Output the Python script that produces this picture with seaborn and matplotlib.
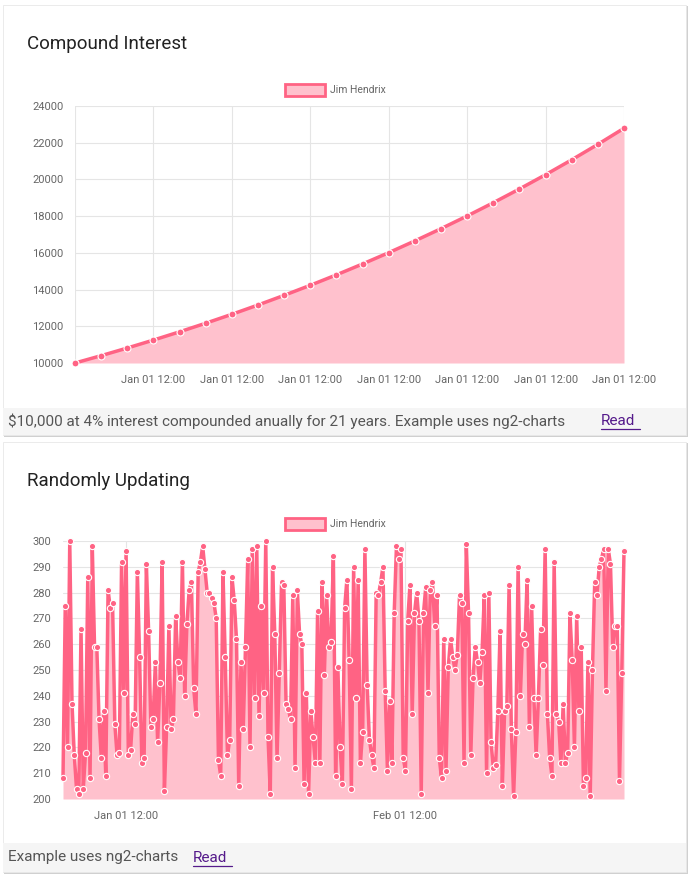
import matplotlib
matplotlib.use("Agg")
import matplotlib.pyplot as plt
import matplotlib.dates as mdates
from matplotlib.patches import Rectangle
from matplotlib.lines import Line2D
import numpy as np
import pandas as pd
import seaborn as sns

sns.set_style("whitegrid")
plt.rcParams['font.family'] = ['Roboto', 'DejaVu Sans']

# ---- data ----
years = list(range(22))
balance = [10000, 10400, 10816, 11249, 11699, 12167, 12653, 13159, 13686, 14233, 14802,
           15395, 16010, 16651, 17317, 18009, 18730, 19479, 20258, 21068, 21911, 22788]
year_ticks = [3, 6, 9, 12, 15, 18, 21]
year_labels = ["Jan 01 12:00"] * 7

random_vals = [
    208, 275, 220, 300, 237, 217, 204, 202, 266, 204, 218, 286, 208, 298, 259, 259, 231, 216,
    234, 209, 281, 274, 276, 229, 217, 218, 292, 241, 296, 217, 219, 233, 229, 288, 255, 214,
    216, 291, 265, 228, 231, 253, 222, 245, 292, 203, 228, 267, 227, 231, 271, 253, 247, 292,
    240, 268, 281, 284, 243, 233, 288, 292,
    298, 289, 280, 280, 278, 276, 270, 215, 209, 288, 255, 217, 223, 286, 277, 262, 205, 253,
    227, 259, 293, 220, 297, 239, 298, 232, 275, 241, 300, 224, 202, 290, 264, 216, 249, 284,
    283, 237, 235, 231, 279, 212, 281, 264, 260, 206, 241, 202, 234, 224, 214, 273, 214, 284,
    248, 279, 259, 261, 294, 209, 251, 220, 206, 274, 285, 254,
    204, 290, 239, 285, 214, 226, 297, 244, 223, 217, 212, 280, 279, 284, 290, 242, 211, 238,
    214, 272, 298, 293, 297, 216, 211, 269, 283, 233, 272, 280, 269, 202, 272, 282, 241, 281,
    284, 267, 279, 216, 208, 262, 211, 251, 262, 255, 250, 256, 279, 276, 214, 299, 272, 217,
    247, 259, 253, 245, 257, 279, 210, 280,
    222, 212, 213, 234, 265, 205, 234, 236, 283, 227, 201, 226, 290, 240, 264, 260, 285, 228,
    275, 239, 217, 239, 266, 252, 297, 233, 216, 209, 292, 233, 230, 214, 237, 214, 218, 272,
    254, 220, 271, 234, 259, 205, 208, 253, 201, 250, 284, 279, 290, 293, 297, 242, 297, 291,
    259, 267, 267, 207, 249, 296,
]
start = pd.Timestamp("2017-12-25 12:00")
span = pd.Timedelta(days=62.3)
times = pd.date_range(start, start + span, periods=len(random_vals))
date_ticks = [pd.Timestamp("2018-01-01 12:00"), pd.Timestamp("2018-02-01 12:00")]

# ---- style ----
LINE = "#ff6384"
FILL = "#ffc1cd"
TICK = "#666666"
W, H = 690, 882

fig = plt.figure(figsize=(W / 100, H / 100), dpi=100)
fig.patch.set_facecolor("white")


def px_rect(x0, y0, x1, y1, **kw):
    return Rectangle((x0 / W, 1 - y1 / H), (x1 - x0) / W, (y1 - y0) / H,
                     transform=fig.transFigure, **kw)


def card(top, bottom, foot_top, title, footer_text, read_x):
    fig.patches.append(px_rect(4, top + 1, 688, bottom + 2, facecolor="#d0d0d0",
                               edgecolor="none", zorder=0))
    fig.patches.append(px_rect(3, top, 686, bottom, facecolor="white",
                               edgecolor="#e8e8e8", lw=0.6, zorder=1))
    fig.patches.append(px_rect(3, foot_top, 686, bottom, facecolor="#f5f5f5",
                               edgecolor="none", zorder=2))
    fig.text(27 / W, 1 - (top + 39) / H, title, fontsize=13.5, color="#222222",
             va="center", zorder=3)
    fy = 1 - ((foot_top + bottom) / 2) / H
    fig.text(8 / W, fy, footer_text, fontsize=11, color="#555555", va="center", zorder=3)
    fig.text(read_x / W, fy, "Read", fontsize=11, color="#551a8b", va="center", zorder=3)
    fig.lines.append(Line2D([read_x / W, (read_x + 39) / W],
                            [fy - 8 / H, fy - 8 / H], transform=fig.transFigure,
                            color="#551a8b", lw=0.9, zorder=3))


def legend(cy):
    fig.patches.append(px_rect(285, cy - 6, 325, cy + 6, facecolor=FILL,
                               edgecolor=LINE, lw=2, zorder=3))
    fig.text(330 / W, 1 - cy / H, "Jim Hendrix", fontsize=7.5, color=TICK,
             va="center", zorder=3)


def style_axes(ax):
    ax.set_facecolor("none")
    ax.grid(True, color="#e5e5e5", lw=0.8)
    for s in ax.spines.values():
        s.set_visible(False)
    ax.tick_params(axis="both", labelsize=8, colors=TICK, length=5, color="#e5e5e5")
    ax.set_xlabel("")
    ax.set_ylabel("")


card(5, 435, 408, "Compound Interest",
     "$10,000 at 4% interest compounded anually for 21 years. Example uses ng2-charts", 601)
card(442, 872, 843, "Randomly Updating", "Example uses ng2-charts", 193)
legend(90)
legend(524)

# chart 1
ax1 = fig.add_axes([75 / W, 1 - 363 / H, 549 / W, 257 / H], zorder=5)
ax1.fill_between(years, balance, 10000, color=FILL, lw=0)
sns.lineplot(x=years, y=balance, ax=ax1, color=LINE, lw=2.5, marker="o", markersize=5,
             markeredgecolor="white", markeredgewidth=0.8, clip_on=False)
ax1.set_xlim(0, 21)
ax1.set_ylim(10000, 24000)
ax1.set_yticks(range(10000, 24001, 2000))
ax1.set_xticks([0] + year_ticks)
ax1.set_xticklabels([""] + year_labels)
style_axes(ax1)

# chart 2
ax2 = fig.add_axes([63 / W, 1 - 799 / H, 561 / W, 258 / H], zorder=5)
ax2.fill_between(times, random_vals, 200, color=FILL, lw=0)
sns.lineplot(x=times, y=random_vals, ax=ax2, color=LINE, lw=2.5, marker="o", markersize=4.5,
             markeredgecolor="white", markeredgewidth=0.8, clip_on=False)
ax2.set_xlim(times[0], times[-1])
ax2.set_ylim(200, 300)
ax2.set_yticks(range(200, 301, 10))
ax2.set_xticks(date_ticks)
ax2.xaxis.set_major_formatter(mdates.DateFormatter("%b %d %H:%M"))
style_axes(ax2)

fig.savefig("out.png", dpi=100)
